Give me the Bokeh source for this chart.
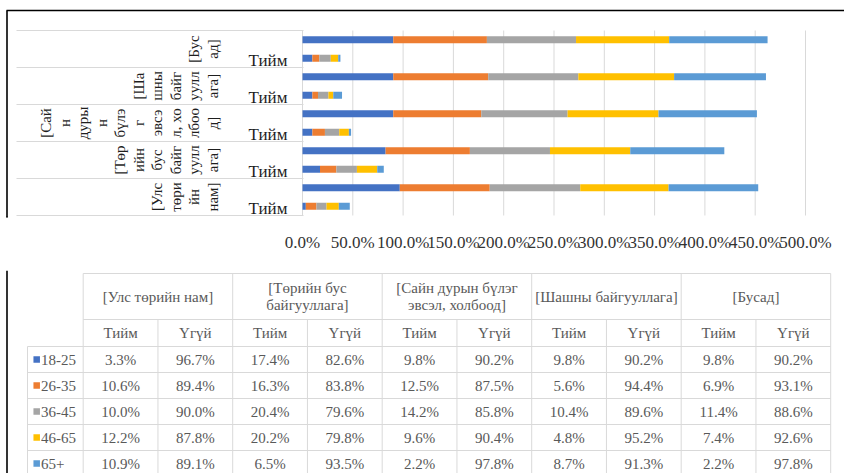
import math
from bokeh.plotting import figure
from bokeh.models import Range1d, LinearAxis, FixedTicker, PrintfTickFormatter, ColumnDataSource
from bokeh.layouts import column
from bokeh.embed import file_html
from bokeh.resources import INLINE
from bokeh.core.properties import value

# ---------------- data ----------------
groups = ["[Улс төрийн нам]", "[Төрийн бус байгууллага]",
          "[Сайн дурын бүлэг эвсэл, холбоод]", "[Шашны байгууллага]", "[Бусад]"]
answers = ["Тийм", "Үгүй"]
ages = ["18-25", "26-35", "36-45", "46-65", "65+"]
colors = ["#4472C4", "#ED7D31", "#A5A5A5", "#FFC000", "#5B9BD5"]

yes_18_25 = [3.3, 17.4, 9.8, 9.8, 9.8]
yes_26_35 = [10.6, 16.3, 12.5, 5.6, 6.9]
yes_36_45 = [10.0, 20.4, 14.2, 10.4, 11.4]
yes_46_65 = [12.2, 20.2, 9.6, 4.8, 7.4]
yes_65p = [10.9, 6.5, 2.2, 8.7, 2.2]

no_18_25 = [96.7, 82.6, 90.2, 90.2, 90.2]
no_26_35 = [89.4, 83.8, 87.5, 94.4, 93.1]
no_36_45 = [90.0, 79.6, 85.8, 89.6, 88.6]
no_46_65 = [87.8, 79.8, 90.4, 95.2, 92.6]
no_65p = [89.1, 93.5, 97.8, 91.3, 97.8]

x_ticks = [0, 50, 100, 150, 200, 250, 300, 350, 400, 450, 500]

# wrapped category labels as they appear in the chart
chart_group_lines = [
    ["[Улс", "төри", "йн", "нам]"],
    ["[Төр", "ийн", "бус", "байг", "уулл", "ага]"],
    ["[Сай", "н", "дуры", "н", "бүлэ", "г", "эвсэ", "л, хо", "лбоо", "д]"],
    ["[Ша", "шны", "байг", "уулл", "ага]"],
    ["[Бус", "ад]"],
]
# wrapped header labels as they appear in the data table
table_header_lines = [
    ["[Улс төрийн нам]"],
    ["[Төрийн бус", "байгууллага]"],
    ["[Сайн дурын бүлэг", "эвсэл, холбоод]"],
    ["[Шашны байгууллага]"],
    ["[Бусад]"],
]

yes_vals = [yes_18_25, yes_26_35, yes_36_45, yes_46_65, yes_65p]
no_vals = [no_18_25, no_26_35, no_36_45, no_46_65, no_65p]

# ---------------- layout constants ----------------
W = 844
HA = 270
HB = 203
FRAME_BOTTOM = 217
PLOT_TOP = 30
PLOT_BOTTOM = 215
X0 = 302
X500 = 805
PXPP = (X500 - X0) / 500.0
SLOT = (PLOT_BOTTOM - PLOT_TOP) / 10.0

FONT_NAME = "'Liberation Serif', 'Times New Roman', serif"
SERIF = value(FONT_NAME)
DARK = "#1e1e1e"
GRID = "#d9d9d9"

# ---------------- chart figure ----------------
pA = figure(width=W, height=HA, output_backend="svg", toolbar_location=None,
            x_axis_type=None, y_axis_type=None,
            x_range=Range1d(-X0 / PXPP, (W - X0) / PXPP),
            y_range=Range1d(-0.5 - (FRAME_BOTTOM - PLOT_BOTTOM) / SLOT, 9.5 + PLOT_TOP / SLOT),
            min_border_left=0, min_border_right=0, min_border_top=0,
            min_border_bottom=HA - FRAME_BOTTOM)
pA.outline_line_color = None
pA.background_fill_color = "white"
pA.border_fill_color = "white"
pA.extra_x_ranges = {"px": Range1d(0, W)}
pA.extra_y_ranges = {"py": Range1d(FRAME_BOTTOM, 0)}

# vertical gridlines at the tick values
pA.segment(x0=x_ticks, x1=x_ticks, y0=[-0.5] * len(x_ticks), y1=[9.5] * len(x_ticks),
           line_color=GRID, line_width=1)

# stacked bars
ys = []
data = {a: [] for a in ages}
for g in range(len(groups)):
    for s, vals in enumerate([yes_vals, no_vals]):
        ys.append(2 * g + s)
        for i, a in enumerate(ages):
            data[a].append(vals[i][g])
data["y"] = ys
src = ColumnDataSource(data)
pA.hbar_stack(ages, y="y", height=0.38, fill_color=colors, line_color=None, source=src)

# category separators in label area
sep_y = [2 * g - 0.5 for g in range(len(groups) + 1)]
pA.segment(x0=[16] * len(sep_y), x1=[X0 + 1] * len(sep_y), y0=sep_y, y1=sep_y,
           line_color=GRID, line_width=1.2, x_range_name="px")

# inner labels (only Тийм shown)
pA.text(x=[267.5] * len(groups), y=[2 * g - 0.1 for g in range(len(groups))],
        text=[answers[0]] * len(groups), x_range_name="px",
        text_font=SERIF, text_font_size="17px", text_color=DARK,
        text_align="center", text_baseline="middle")

# outer rotated, wrapped group labels
lx, ly, lt = [], [], []
for g, lines in enumerate(chart_group_lines):
    n = len(lines)
    for k, t in enumerate(lines):
        lx.append(212 - (n - 1 - k) * 18.5)
        ly.append(2 * g + 0.5)
        lt.append(t)
pA.text(x=lx, y=ly, text=lt, angle=math.pi / 2, x_range_name="px",
        text_font=SERIF, text_font_size="15px", text_color=DARK,
        text_align="center", text_baseline="middle")

# outer black frame (top + left)
pA.segment(x0=[6], x1=[W], y0=[10], y1=[10], line_color="black", line_width=1.6,
           x_range_name="px", y_range_name="py")
pA.segment(x0=[6.5], x1=[6.5], y0=[10], y1=[FRAME_BOTTOM], line_color="black",
           line_width=1.6, x_range_name="px", y_range_name="py")

xaxis = LinearAxis(ticker=FixedTicker(ticks=x_ticks),
                   formatter=PrintfTickFormatter(format="%.1f%%"),
                   axis_line_color=None, major_tick_line_color=None,
                   minor_tick_line_color=None, major_label_standoff=9,
                   major_label_text_font=FONT_NAME,
                   major_label_text_font_size="17px",
                   major_label_text_color="#333333")
pA.add_layout(xaxis, "below")
# extend left frame line through the axis area
pA.segment(x0=[6.5], x1=[6.5], y0=[FRAME_BOTTOM - 1], y1=[HA], line_color="black",
           line_width=1.6, x_range_name="px", y_range_name="py")

# ---------------- data table figure ----------------
pB = figure(width=W, height=HB, output_backend="svg", toolbar_location=None,
            x_axis_type=None, y_axis_type=None,
            x_range=Range1d(0, W), y_range=Range1d(HB, 0),
            min_border=0)
pB.outline_line_color = None
pB.background_fill_color = "white"
pB.border_fill_color = "white"

OY = HA  # page offset of this figure
leg_left = 27
tab_left = 82.7
gw = 149.5
g_edges = [tab_left + i * gw for i in range(len(groups) + 1)]
h_top, h_mid, h_bot = 273 - OY, 319 - OY, 346 - OY
rh = 26
r_edges = [h_bot + i * rh for i in range(len(ages) + 1)]

x0s, x1s, y0s, y1s = [], [], [], []
def seg(a, b, c, d):
    x0s.append(a); x1s.append(b); y0s.append(c); y1s.append(d)

seg(tab_left, g_edges[-1], h_top, h_top)
seg(tab_left, g_edges[-1], h_mid, h_mid)
for y in r_edges:
    seg(leg_left, g_edges[-1], y, y)
for x in g_edges:
    seg(x, x, h_top, HB + 5)
for x in g_edges[:-1]:
    seg(x + gw / 2, x + gw / 2, h_mid, HB + 5)
seg(leg_left, leg_left, h_bot, HB + 5)
pB.segment(x0=x0s, x1=x1s, y0=y0s, y1=y1s, line_color=GRID, line_width=1)

# left black frame line
pB.segment(x0=[6.5], x1=[6.5], y0=[0], y1=[HB], line_color="black", line_width=1.6)

TXT = "#595959"
tx, ty, tt = [], [], []
for g, lines in enumerate(table_header_lines):
    cx = g_edges[g] + gw / 2
    cy = (h_top + h_mid) / 2
    n = len(lines)
    for k, t in enumerate(lines):
        tx.append(cx); ty.append(cy + (k - (n - 1) / 2) * 17); tt.append(t)
    for s, a in enumerate(answers):
        tx.append(g_edges[g] + gw / 4 + s * gw / 2); ty.append((h_mid + h_bot) / 2); tt.append(a)
    for i in range(len(ages)):
        rc = r_edges[i] + rh / 2
        tx.append(g_edges[g] + gw / 4); ty.append(rc); tt.append(f"{yes_vals[i][g]:.1f}%")
        tx.append(g_edges[g] + 3 * gw / 4); ty.append(rc); tt.append(f"{no_vals[i][g]:.1f}%")
pB.text(x=tx, y=ty, text=tt, text_font=SERIF, text_font_size="15px", text_color=TXT,
        text_align="center", text_baseline="middle")

# legend keys in the table
row_c = [r_edges[i] + rh / 2 for i in range(len(ages))]
pB.rect(x=[36.2] * len(ages), y=row_c, width=6.5, height=6.5,
        fill_color=colors, line_color=None)
pB.text(x=[40.5] * len(ages), y=row_c, text=ages, text_font=SERIF,
        text_font_size="15px", text_color=TXT, text_align="left", text_baseline="middle")

layout = column(pA, pB, spacing=0)
open("out.html", "w").write(file_html(layout, INLINE))
